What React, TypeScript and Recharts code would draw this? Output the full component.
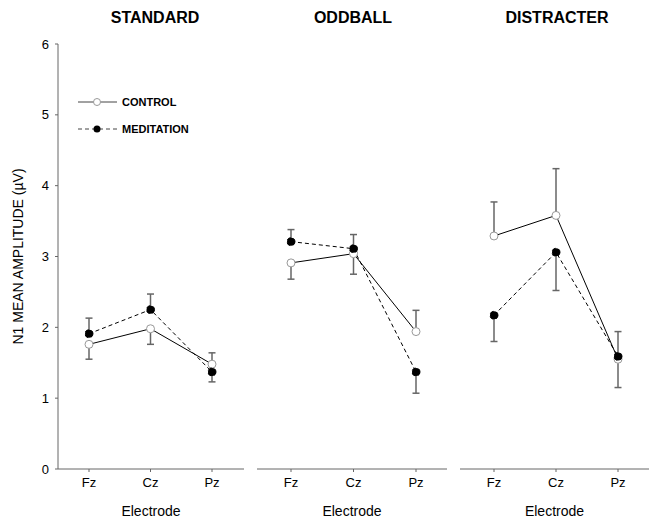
import React from "react";
import { LineChart, Line, XAxis, YAxis, ErrorBar } from "recharts";

// Electrode sites on the x axis
const electrodes = ["Fz", "Cz", "Pz"];
const yTicks = [0, 1, 2, 3, 4, 5, 6];

// N1 mean amplitude (µV)
const standardControl = [1.76, 1.98, 1.48];
const standardMeditation = [1.91, 2.25, 1.37];
const oddballControl = [2.91, 3.04, 1.94];
const oddballMeditation = [3.21, 3.11, 1.37];
const distracterControl = [3.29, 3.58, 1.55];
const distracterMeditation = [2.17, 3.06, 1.59];

// one-sided error bars as [below, above]
const standardControlErr = [[0.21, 0], [0.22, 0], [0, 0.16]];
const standardMeditationErr = [[0, 0.22], [0, 0.22], [0.14, 0]];
const oddballControlErr = [[0.23, 0], [0.29, 0], [0, 0.3]];
const oddballMeditationErr = [[0, 0.17], [0, 0.2], [0.3, 0]];
const distracterControlErr = [[0, 0.48], [0, 0.66], [0.4, 0]];
const distracterMeditationErr = [[0.37, 0], [0.54, 0], [0, 0.35]];

const panels = [
  { title: "STANDARD", control: standardControl, meditation: standardMeditation, cErr: standardControlErr, mErr: standardMeditationErr },
  { title: "ODDBALL", control: oddballControl, meditation: oddballMeditation, cErr: oddballControlErr, mErr: oddballMeditationErr },
  { title: "DISTRACTER", control: distracterControl, meditation: distracterMeditation, cErr: distracterControlErr, mErr: distracterMeditationErr },
];

const FONT = "Liberation Sans, Arial, sans-serif";
const AXIS = "#666";
const ERR = "#666";

// panel layout: left edge of chart, plot start, plot width, category padding
const layout = [
  { left: 0, plotLeft: 58, plotWidth: 186, padL: 31, padR: 32 },
  { left: 248, plotLeft: 257, plotWidth: 190, padL: 34, padR: 31 },
  { left: 451, plotLeft: 460, plotWidth: 189, padL: 34, padR: 31 },
];

const LegendBox = () => (
  <svg width={140} height={50} style={{ position: "absolute", left: 75, top: 92 }}>
    <line x1={3} y1={10} x2={42} y2={10} stroke="#444" strokeWidth={1} />
    <circle cx={22} cy={10} r={3.5} fill="#fff" stroke="#999" />
    <text x={47} y={14} fontSize={11} fontWeight="bold" fontFamily={FONT} fill="#000">CONTROL</text>
    <line x1={3} y1={37} x2={42} y2={37} stroke="#444" strokeWidth={1} strokeDasharray="4 3" />
    <circle cx={22} cy={37} r={3.5} fill="#000" />
    <text x={47} y={41} fontSize={11} fontWeight="bold" fontFamily={FONT} fill="#000">MEDITATION</text>
  </svg>
);

function Panel({ idx }: { idx: number }) {
  const p = panels[idx];
  const l = layout[idx];
  const first = idx === 0;
  const data = electrodes.map((e, i) => ({
    name: e,
    control: p.control[i],
    meditation: p.meditation[i],
    cErr: p.cErr[i],
    mErr: p.mErr[i],
  }));
  const yw = l.plotLeft - l.left;
  const width = yw + l.plotWidth;
  return (
    <div style={{ position: "absolute", left: l.left, top: 0 }}>
      <LineChart
        width={width}
        height={525}
        data={data}
        margin={{ top: 44, right: 0, bottom: 0, left: first ? 0 : yw }}
      >
        <XAxis
          dataKey="name"
          height={56}
          stroke={AXIS}
          tickSize={3}
          padding={{ left: l.padL, right: l.padR }}
          tick={{ fontSize: 13, fill: "#000", fontFamily: FONT }}
          tickMargin={6}
          label={{ value: "Electrode", position: "insideBottom", offset: 9, fontSize: 14, fill: "#000", fontFamily: FONT }}
        />
        <YAxis
          domain={[0, 6]}
          ticks={yTicks}
          width={first ? yw : 0}
          hide={!first}
          stroke={AXIS}
          tickSize={3}
          tick={{ fontSize: 13, fill: "#000", fontFamily: FONT }}
          tickMargin={6}
          label={{ value: "N1 MEAN AMPLITUDE (µV)", angle: -90, position: "insideLeft", offset: 18, fontSize: 14, fill: "#000", fontFamily: FONT, style: { textAnchor: "middle" } }}
        />
        <Line
          dataKey="control"
          stroke="#000"
          strokeWidth={1}
          dot={{ r: 4, fill: "#fff", stroke: "#999", strokeWidth: 1 }}
          isAnimationActive={false}
        >
          <ErrorBar dataKey="cErr" width={3.5} stroke={ERR} strokeWidth={1.5} />
        </Line>
        <Line
          dataKey="meditation"
          stroke="#000"
          strokeWidth={1}
          strokeDasharray="4 3"
          dot={{ r: 4, fill: "#000", stroke: "#000", strokeWidth: 1 }}
          isAnimationActive={false}
        >
          <ErrorBar dataKey="mErr" width={3.5} stroke={ERR} strokeWidth={1.5} />
        </Line>
      </LineChart>
    </div>
  );
}

export default function App() {
  const titleX = [155, 353, 557];
  return (
    <div style={{ position: "absolute", left: 0, top: 0, width: 656, height: 525, background: "#fff", fontFamily: FONT }}>
      {panels.map((p, i) => (
        <div
          key={p.title}
          style={{ position: "absolute", left: titleX[i] - 100, top: 9, width: 200, textAlign: "center", fontSize: 16, fontWeight: "bold" }}
        >
          {p.title}
        </div>
      ))}
      {panels.map((p, i) => (
        <Panel key={p.title} idx={i} />
      ))}
      <LegendBox />
    </div>
  );
}
